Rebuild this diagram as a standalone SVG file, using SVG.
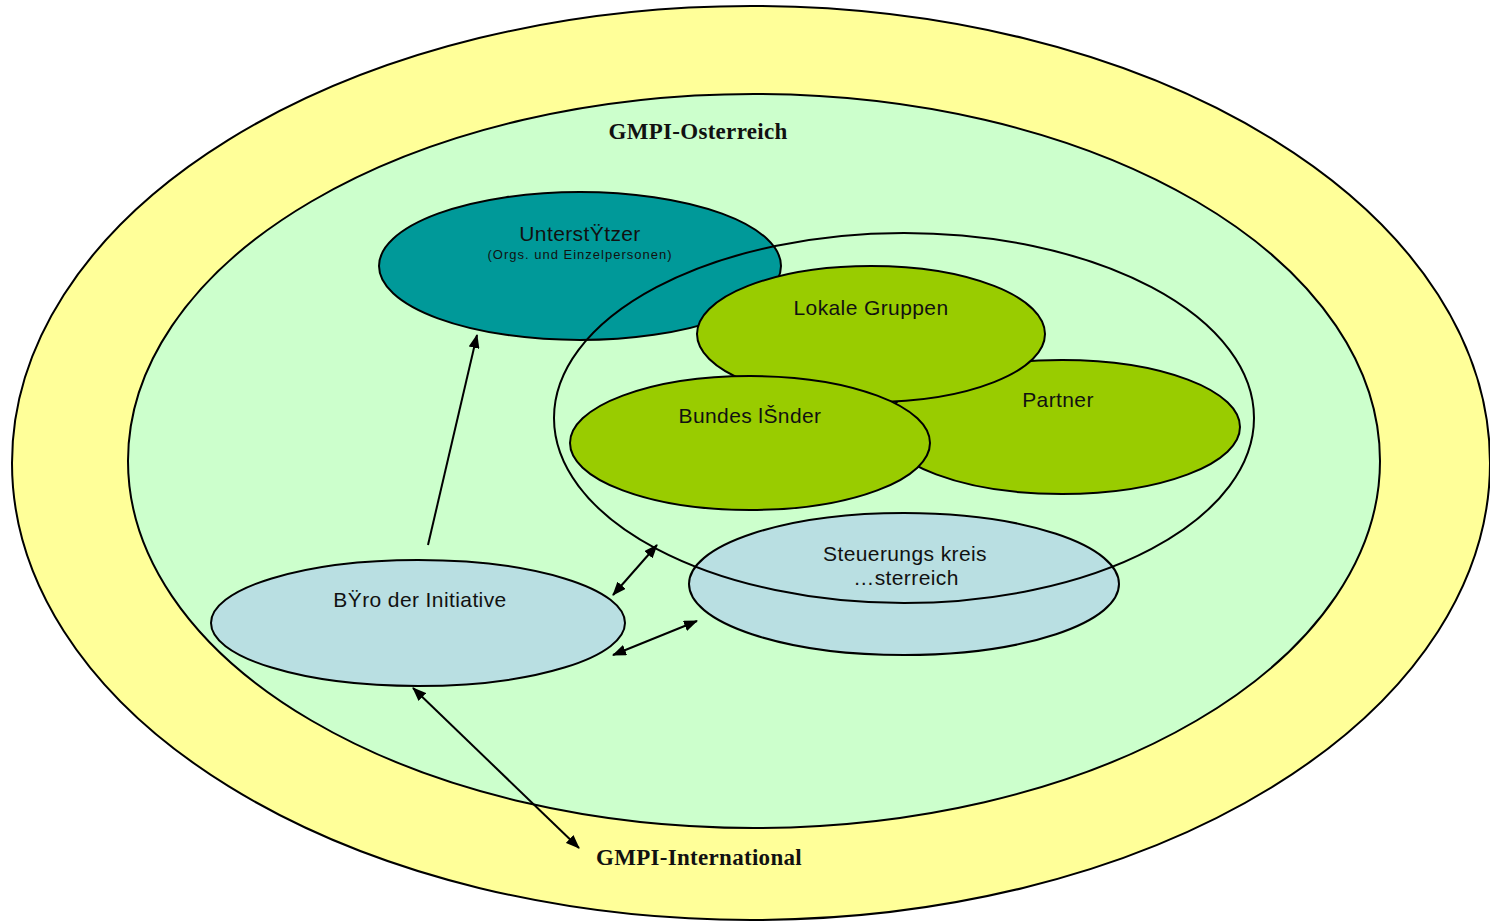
<svg xmlns="http://www.w3.org/2000/svg" width="1490" height="922" viewBox="0 0 1490 922">
<style>
.o{stroke:#000;stroke-width:2}
.t{font-family:"Liberation Sans",Arial,sans-serif;font-size:21px;letter-spacing:0.4px;fill:#111;text-anchor:middle}
.s{font-family:"Liberation Sans",Arial,sans-serif;font-size:13px;letter-spacing:1px;fill:#111;text-anchor:middle}
.b{font-family:"Liberation Serif","Times New Roman",serif;font-size:23px;font-weight:bold;letter-spacing:0.3px;fill:#111;text-anchor:middle}
.c{stroke:#000;stroke-width:2;fill:none}
</style>
<defs>
<marker id="ah" viewBox="0 0 14 11" refX="13" refY="5.5" markerWidth="14" markerHeight="11" orient="auto-start-reverse" markerUnits="userSpaceOnUse">
<path d="M0,0 L14,5.5 L0,11 z" fill="#000"/>
</marker>
</defs>
<rect width="1490" height="922" fill="#fff"/>
<g id="international">
<ellipse class="o" cx="751" cy="463" rx="739" ry="457" fill="#FFFF99"/>
<text class="b" x="699" y="865">GMPI-International</text>
</g>
<g id="oesterreich">
<ellipse class="o" cx="754" cy="461" rx="626" ry="367" fill="#CCFFCC"/>
<text class="b" x="698" y="139">GMPI-Osterreich</text>
</g>
<g id="unterstuetzer">
<ellipse class="o" cx="580" cy="266" rx="201" ry="74" fill="#009999"/>
<text class="t" x="580" y="241">UnterstŸtzer</text>
<text class="s" x="580" y="259">(Orgs. und Einzelpersonen)</text>
</g>
<g id="partner">
<ellipse class="o" cx="1062" cy="427" rx="178" ry="67" fill="#99CC00"/>
<text class="t" x="1058" y="407">Partner</text>
</g>
<g id="lokale-gruppen">
<ellipse class="o" cx="871" cy="334" rx="174" ry="68" fill="#99CC00"/>
<text class="t" x="871" y="315">Lokale Gruppen</text>
</g>
<g id="bundeslaender">
<ellipse class="o" cx="750" cy="443" rx="180" ry="67" fill="#99CC00"/>
<text class="t" x="750" y="423">Bundes lŠnder</text>
</g>
<g id="steuerungskreis">
<ellipse class="o" cx="904" cy="584" rx="215" ry="71" fill="#B9DFE2"/>
<text class="t" x="905" y="561">Steuerungs kreis</text>
<text class="t" x="906" y="585">…sterreich</text>
</g>
<g id="ring">
<ellipse class="c" cx="904" cy="418" rx="350" ry="185"/>
</g>
<g id="buero">
<ellipse class="o" cx="418" cy="623" rx="207" ry="63" fill="#B9DFE2"/>
<text class="t" x="420" y="607">BŸro der Initiative</text>
</g>
<g id="connectors">
<line class="c" x1="428" y1="545" x2="477" y2="335" marker-end="url(#ah)"/>
<line class="c" x1="613" y1="595" x2="657" y2="545" marker-start="url(#ah)" marker-end="url(#ah)"/>
<line class="c" x1="613" y1="655" x2="697" y2="621" marker-start="url(#ah)" marker-end="url(#ah)"/>
<line class="c" x1="413" y1="688" x2="579" y2="848" marker-start="url(#ah)" marker-end="url(#ah)"/>
</g>
</svg>
